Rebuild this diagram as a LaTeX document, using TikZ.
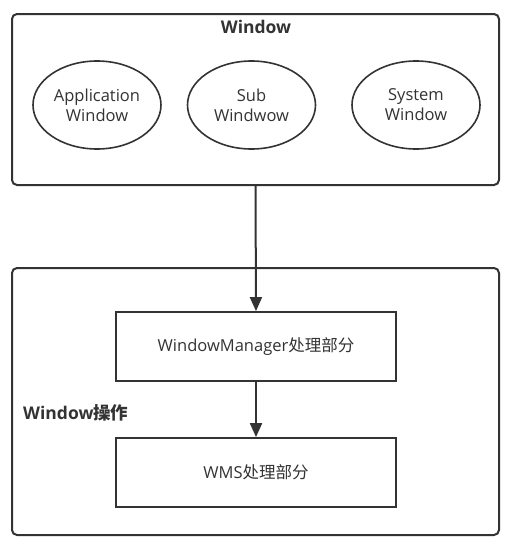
\documentclass[tikz,border=0pt]{standalone}
\usepackage{fontspec}
\setmainfont{Open Sans}
\newfontfamily\cjk{Noto Sans CJK SC}
\usetikzlibrary{shapes.geometric,arrows.meta}
\definecolor{ln}{HTML}{333333}
\definecolor{tx}{HTML}{333333}
\begin{document}
\begin{tikzpicture}[x=1pt,y=-1pt,
  outer/.style={draw=ln,line width=2pt,rounded corners=5pt},
  ell/.style={draw=ln,line width=1.6pt,ellipse,minimum width=128pt,minimum height=88pt,inner sep=0pt,align=center,text=tx,font=\fontsize{16.5}{20}\selectfont},
  boxn/.style={draw=ln,line width=1.8pt,minimum width=280pt,minimum height=69pt,inner sep=0pt,text=tx,font=\fontsize{16.5}{20}\selectfont},
  ttl/.style={text=tx,font=\bfseries\fontsize{17.5}{20}\selectfont,inner sep=0pt},
  arr/.style={draw=ln,line width=2pt,-{Triangle[length=14pt,width=12pt]}}]
\useasboundingbox (0,0) rectangle (508,546);
\fill[white] (0,0) rectangle (508,546);
\node[outer,minimum width=487pt,minimum height=171pt,inner sep=0pt] (win) at (255.5,99.5) {};
\node[ttl] (wint) at (256,27) {Window};
\node[ell] (app) at (97,105) {Application\\Window};
\node[ell] (sub) at (251.5,105) {Sub\\Windwow};
\node[ell] (sys) at (416,105) {System\\Window};
\node[outer,minimum width=487pt,minimum height=267pt,inner sep=0pt] (op) at (255.5,401.5) {};
\node[ttl,anchor=west] (opt) at (23,413) {Window{\cjk 操作}};
\node[boxn] (wm) at (256,346.5) {WindowManager{\cjk 处理部分}};
\node[boxn] (wms) at (256,472.5) {WMS{\cjk 处理部分}};
\draw[arr] (win.south) -- (wm.north);
\draw[arr] (wm.south) -- (wms.north);
\end{tikzpicture}
\end{document}
